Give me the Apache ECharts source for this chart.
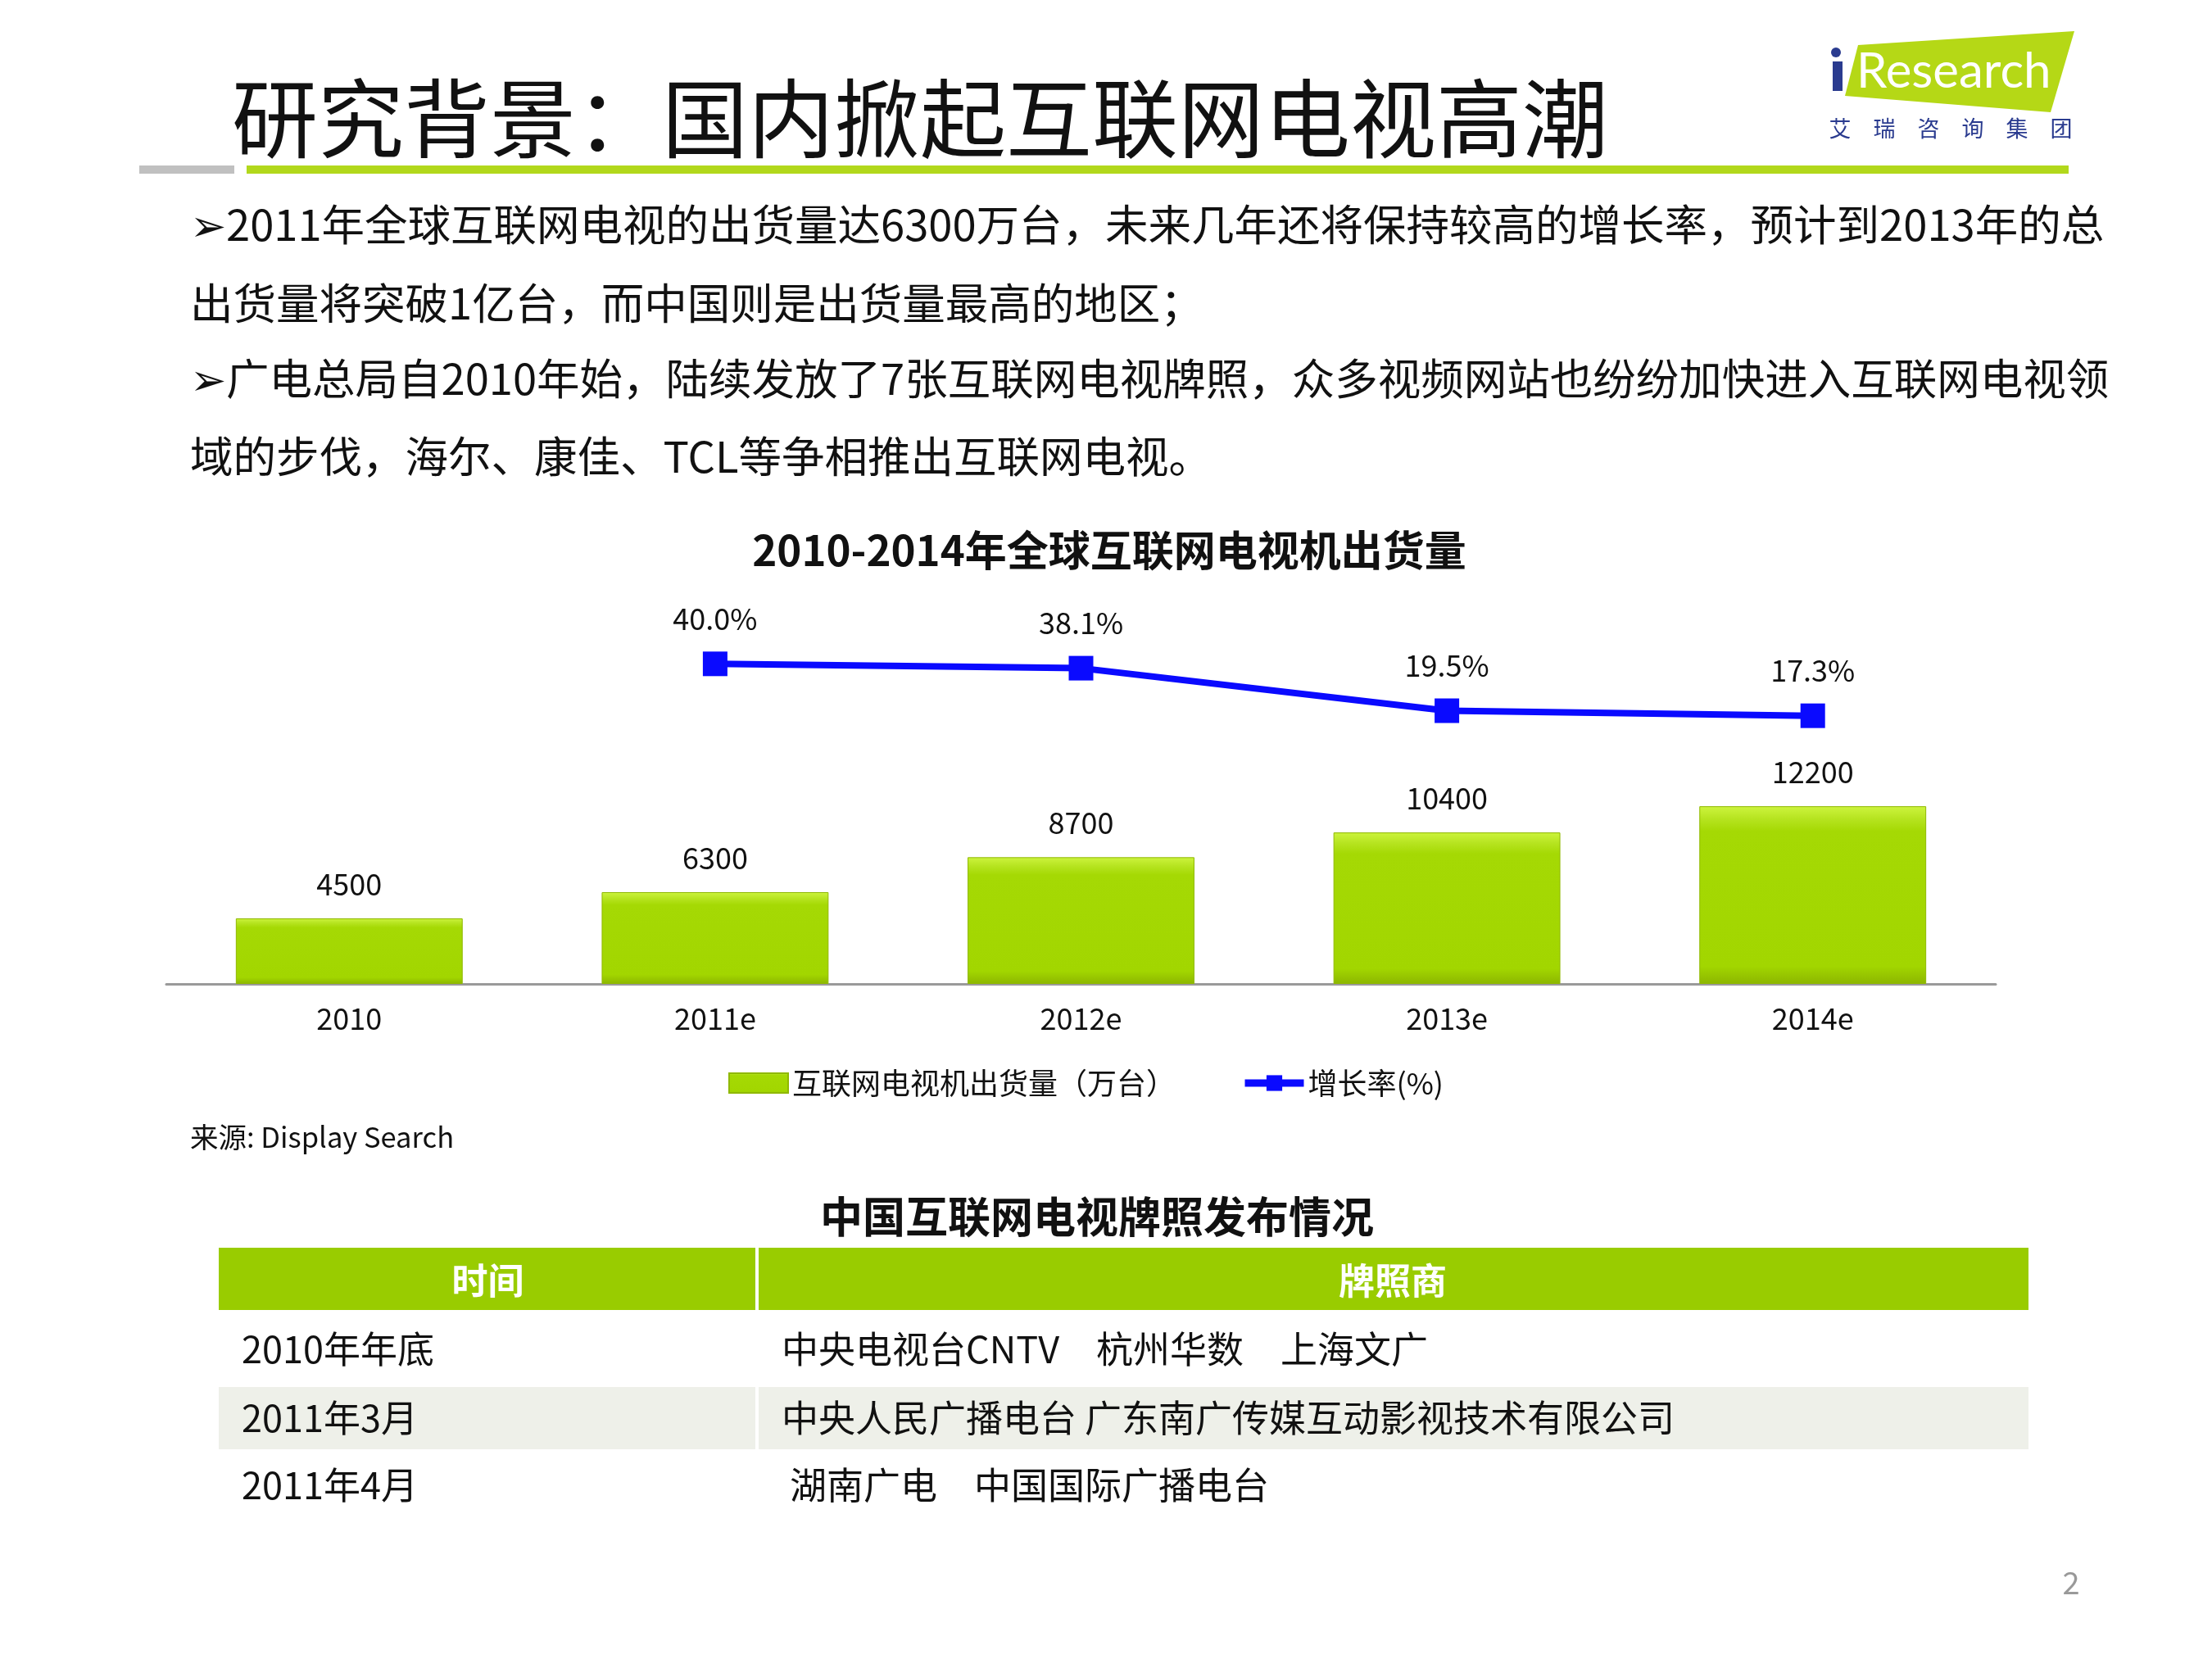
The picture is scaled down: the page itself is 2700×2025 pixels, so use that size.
<!DOCTYPE html>
<html>
<head>
<meta charset="utf-8">
<script src="https://cdn.jsdelivr.net/npm/echarts@6/dist/echarts.min.js"></script>
<style>
html,body{margin:0;padding:0;background:#fff;}
#main{width:2700px;height:2025px;}
</style>
</head>
<body>
<div id="main"></div>
<script>
// ---- data ----
const categories = ['2010', '2011e', '2012e', '2013e', '2014e'];
const shipments = [4500, 6300, 8700, 10400, 12200];
const growthRate = [null, 40.0, 38.1, 19.5, 17.3];
const seriesNames = ['互联网电视机出货量（万台）', '增长率(%)'];
const pageTitle = '研究背景：国内掀起互联网电视高潮';
const chartTitle = '2010-2014年全球互联网电视机出货量';
const bulletLines = [
  '➢2011年全球互联网电视的出货量达6300万台，未来几年还将保持较高的增长率，预计到2013年的总',
  '出货量将突破1亿台，而中国则是出货量最高的地区；',
  '➢广电总局自2010年始，陆续发放了7张互联网电视牌照，众多视频网站也纷纷加快进入互联网电视领',
  '域的步伐，海尔、康佳、TCL等争相推出互联网电视。'
];
const sourceText = '来源: Display Search';
const tableTitle = '中国互联网电视牌照发布情况';
const tableHeader = ['时间', '牌照商'];
const tableTimes = ['2010年年底', '2011年3月', '2011年4月'];
const tableLicensees = [
  '中央电视台CNTV　杭州华数　上海文广',
  '中央人民广播电台 广东南广传媒互动影视技术有限公司',
  ' 湖南广电　中国国际广播电台'
];
const logoSub = ['艾', '瑞', '咨', '询', '集', '团'];
const pageNumber = '2';

// ---- layout ----
const FF = '"Noto Sans CJK SC", "Noto Sans", sans-serif';
const bulletY = [274, 370, 462, 557];
const tbl = { left: 267, right: 2476, split: 924, headTop: 1523, headH: 76, rowTops: [1599, 1693, 1769], rowH: [94, 76, 90] };

const graphics = [];
// title
graphics.push({ type: 'text', x: 283, y: 144, style: { text: pageTitle, font: '105px ' + FF, fill: '#111', align: 'left', verticalAlign: 'middle' } });
// title underline bars
graphics.push({ type: 'rect', shape: { x: 170, y: 202, width: 116, height: 10 }, style: { fill: '#c0c0c0' } });
graphics.push({ type: 'rect', shape: { x: 301, y: 202, width: 2224, height: 10 }, style: { fill: '#b2d81c' } });
// logo
graphics.push({ type: 'polygon', shape: { points: [[2268, 55], [2532, 38], [2503, 137], [2252, 117]] }, style: { fill: '#b5d816' } });
graphics.push({ type: 'rect', shape: { x: 2237, y: 75, width: 12, height: 36 }, style: { fill: '#2a3b8f' } });
graphics.push({ type: 'circle', shape: { cx: 2241, cy: 64, r: 6 }, style: { fill: '#2a3b8f' } });
graphics.push({ type: 'text', x: 2266, y: 88, style: { text: 'Research', font: '60px Lato, sans-serif', fill: '#fff', align: 'left', verticalAlign: 'middle' } });
logoSub.forEach((c, i) => {
  graphics.push({ type: 'text', x: 2246 + i * 54, y: 157, style: { text: c, font: '27px ' + FF, fill: '#2a3b8f', align: 'center', verticalAlign: 'middle' } });
});
// bullet text
bulletLines.forEach((t, i) => {
  graphics.push({ type: 'text', x: 232, y: bulletY[i], style: { text: t, font: '52.5px ' + FF, fill: '#111', align: 'left', verticalAlign: 'middle' } });
});
// chart title
graphics.push({ type: 'text', x: 1354, y: 672, style: { text: chartTitle, font: 'bold 51px ' + FF, fill: '#111', align: 'center', verticalAlign: 'middle' } });
// source
graphics.push({ type: 'text', x: 232, y: 1388, style: { text: sourceText, font: '34.5px ' + FF, fill: '#111', align: 'left', verticalAlign: 'middle' } });
// table title
graphics.push({ type: 'text', x: 1339, y: 1485, style: { text: tableTitle, font: 'bold 52px ' + FF, fill: '#111', align: 'center', verticalAlign: 'middle' } });
// table header
graphics.push({ type: 'rect', shape: { x: tbl.left, y: tbl.headTop, width: tbl.right - tbl.left, height: tbl.headH }, style: { fill: '#99cc00' } });
graphics.push({ type: 'rect', shape: { x: tbl.split - 2, y: tbl.headTop, width: 4, height: tbl.headH }, style: { fill: '#ffffff' } });
graphics.push({ type: 'text', x: (tbl.left + tbl.split) / 2, y: tbl.headTop + tbl.headH / 2 + 2, style: { text: tableHeader[0], font: 'bold 44px ' + FF, fill: '#fff', align: 'center', verticalAlign: 'middle' } });
graphics.push({ type: 'text', x: (tbl.split + tbl.right) / 2, y: tbl.headTop + tbl.headH / 2 + 2, style: { text: tableHeader[1], font: 'bold 44px ' + FF, fill: '#fff', align: 'center', verticalAlign: 'middle' } });
// table rows
tableTimes.forEach((t, i) => {
  const top = tbl.rowTops[i], h = tbl.rowH[i];
  if (i === 1) {
    graphics.push({ type: 'rect', shape: { x: tbl.left, y: top, width: tbl.right - tbl.left, height: h }, style: { fill: '#eef0e9' } });
    graphics.push({ type: 'rect', shape: { x: tbl.split - 2, y: top, width: 4, height: h }, style: { fill: '#ffffff' } });
  }
  const cy = i === 0 ? top + 48 : (i === 1 ? top + h / 2 : top + 44);
  graphics.push({ type: 'text', x: 295, y: cy, style: { text: t, font: '45px ' + FF, fill: '#111', align: 'left', verticalAlign: 'middle' } });
  graphics.push({ type: 'text', x: 954, y: cy, style: { text: tableLicensees[i], font: '45px ' + FF, fill: '#111', align: 'left', verticalAlign: 'middle', whiteSpace: 'pre' } });
});
// page number
graphics.push({ type: 'text', x: 2528, y: 1932, style: { text: pageNumber, font: '38px ' + FF, fill: '#999', align: 'center', verticalAlign: 'middle' } });

const barGradient = new echarts.graphic.LinearGradient(0, 0, 0, 1, [
  { offset: 0, color: '#cdf43e' },
  { offset: 0.07, color: '#b6e420' },
  { offset: 0.14, color: '#a5d904' },
  { offset: 0.9, color: '#a2d600' },
  { offset: 1, color: '#8cb600' }
]);
const BLUE = '#0a0aff';

const chart = echarts.init(document.getElementById('main'), null, { renderer: 'canvas' });
chart.setOption({
  backgroundColor: '#ffffff',
  animation: false,
  textStyle: { fontFamily: FF },
  graphic: graphics,
  grid: { left: 203, right: 264, top: 721, height: 480 },
  legend: {
    left: 884,
    top: 1299,
    itemWidth: 72,
    itemHeight: 24,
    itemGap: 80,
    textStyle: { fontSize: 36, color: '#111', fontFamily: FF },
    data: [
      { name: seriesNames[0], icon: 'rect' },
      { name: seriesNames[1], lineStyle: { width: 9, color: BLUE } }
    ]
  },
  xAxis: {
    type: 'category',
    data: categories,
    axisLine: { lineStyle: { color: '#9a9a9a', width: 3 } },
    axisTick: { show: false },
    axisLabel: { fontSize: 36, color: '#111', margin: 24, fontFamily: FF }
  },
  yAxis: [
    { type: 'value', min: 0, max: 27000, show: false, splitLine: { show: false } },
    { type: 'value', min: -100, max: 72, show: false, splitLine: { show: false } }
  ],
  series: [
    {
      name: seriesNames[0],
      type: 'bar',
      data: shipments,
      barCategoryGap: '38%',
      itemStyle: { color: barGradient, borderColor: '#8fb800', borderWidth: 1 },
      label: { show: true, position: 'top', distance: 24, fontSize: 36, color: '#111', fontFamily: FF }
    },
    {
      name: seriesNames[1],
      type: 'line',
      yAxisIndex: 1,
      data: growthRate,
      color: BLUE,
      symbol: 'rect',
      symbolSize: 30,
      lineStyle: { width: 8, color: BLUE },
      itemStyle: { color: BLUE },
      label: {
        show: true, position: 'top', distance: 22, fontSize: 36, color: '#111', fontFamily: FF,
        formatter: p => p.value == null ? '' : p.value.toFixed(1) + '%'
      }
    }
  ]
});
</script>
</body>
</html>
